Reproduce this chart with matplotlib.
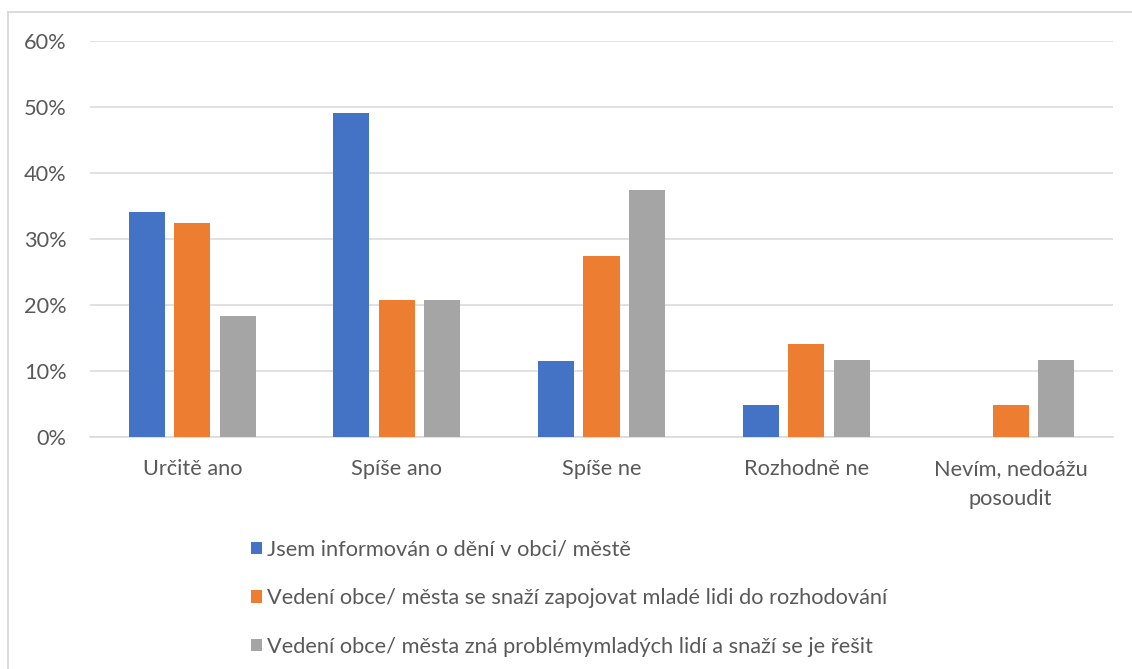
import matplotlib.pyplot as plt
import numpy as np
from matplotlib.lines import Line2D
from matplotlib.ticker import PercentFormatter

plt.rcParams['font.family'] = ['Lato', 'DejaVu Sans']

categories = ["Určitě ano", "Spíše ano", "Spíše ne", "Rozhodně ne", "Nevím, nedoážu\nposoudit"]
series_names = [
    "Jsem informován o dění v obci/ městě",
    "Vedení obce/ města se snaží zapojovat mladé lidi do rozhodování",
    "Vedení obce/ města zná problémymladých lidí a snaží se je řešit",
]
informovan = [34.1, 49.1, 11.5, 4.9, 0.0]
zapojovat = [32.4, 20.7, 27.4, 14.1, 4.9]
zna_problemy = [18.3, 20.8, 37.4, 11.6, 11.6]
yticks = [0, 10, 20, 30, 40, 50, 60]

colors = ["#4472C4", "#ED7D31", "#A5A5A5"]
text_color = "#595959"
grid_color = "#D9D9D9"

W, H = 1132, 669
fig = plt.figure(figsize=(W / 100, H / 100), dpi=100)
ax = fig.add_axes([90 / W, 1 - 437 / H, (1113 - 90) / W, (437 - 41) / H])

x = np.arange(len(categories))
width = 0.176
offset = 0.222
for i, (vals, color, name) in enumerate(zip([informovan, zapojovat, zna_problemy], colors, series_names)):
    ax.bar(x + (i - 1) * offset, vals, width, color=color, label=name, zorder=3)

ax.set_xlim(-0.5, len(categories) - 0.5)
ax.set_ylim(0, 60)
ax.set_yticks(yticks)
ax.yaxis.set_major_formatter(PercentFormatter(decimals=0))
ax.set_xticks(x)
ax.set_xticklabels(categories, linespacing=1.6)
ax.tick_params(axis="both", length=0, labelsize=15.7, labelcolor=text_color)
ax.tick_params(axis="y", pad=17)
ax.tick_params(axis="x", pad=16)
ax.grid(axis="y", color=grid_color, lw=1.1, zorder=0)
for side in ["top", "right", "left"]:
    ax.spines[side].set_visible(False)
ax.spines["bottom"].set_color(grid_color)
ax.spines["bottom"].set_linewidth(1.1)

# chart frame (cut off at right and bottom)
fig.add_artist(Line2D([8 / W, 1], [1 - 12 / H, 1 - 12 / H], color=grid_color, lw=1.3))
fig.add_artist(Line2D([8 / W, 8 / W], [0, 1 - 12 / H], color=grid_color, lw=1.3))

handles, labels = ax.get_legend_handles_labels()
fig.legend(handles, labels, loc="upper left", bbox_to_anchor=(251 / W, 1 - 540 / H),
           frameon=False, fontsize=15.7, labelcolor=text_color, handlelength=0.5,
           handleheight=0.5, handletextpad=0.25, labelspacing=1.3,
           borderpad=0, borderaxespad=0)

fig.savefig("out.png", dpi=100)
